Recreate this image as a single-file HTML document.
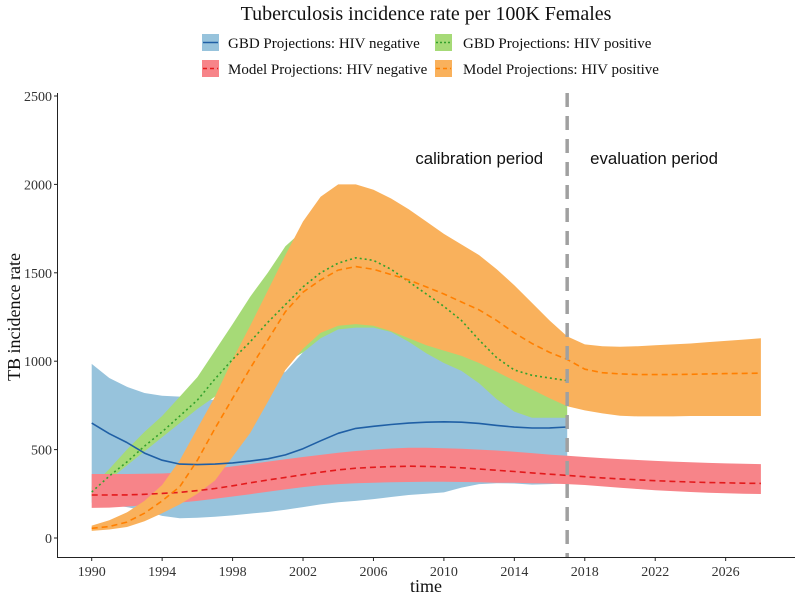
<!DOCTYPE html>
<html><head><meta charset="utf-8"><style>
html,body{margin:0;padding:0;background:#fff;}
svg{display:block;font-family:"Liberation Serif",serif;}
</style></head><body>
<svg id="chart" width="800" height="600" viewBox="0 0 800 600">
<text x="426" y="20" font-size="20" text-anchor="middle" fill="#111">Tuberculosis incidence rate per 100K Females</text>
<g>
 <g>
  <rect x="202" y="34" width="17" height="17" fill="#97c3dc"/><line x1="203" y1="42.5" x2="218" y2="42.5" stroke="#1f5fa5" stroke-width="1.5"/>
  <text x="228" y="48" font-size="15" fill="#111">GBD Projections: HIV negative</text></g>
 <g>
  <rect x="435" y="34" width="17" height="17" fill="#a6da77"/><line x1="436" y1="42.5" x2="451" y2="42.5" stroke="#33a02c" stroke-width="1.5" stroke-dasharray="2,2"/>
  <text x="463" y="48" font-size="15" fill="#111">GBD Projections: HIV positive</text></g>
 <g>
  <rect x="202" y="60" width="17" height="17" fill="#f78489"/><line x1="203" y1="68.5" x2="218" y2="68.5" stroke="#e31a1c" stroke-width="1.5" stroke-dasharray="4,3"/>
  <text x="228" y="74" font-size="15" fill="#111">Model Projections: HIV negative</text></g>
 <g>
  <rect x="435" y="60" width="17" height="17" fill="#f9b15c"/><line x1="436" y1="68.5" x2="451" y2="68.5" stroke="#ff7f00" stroke-width="1.5" stroke-dasharray="4,3"/>
  <text x="463" y="74" font-size="15" fill="#111">Model Projections: HIV positive</text></g>
</g>
<g id="plot"></g>
<text transform="translate(20,317) rotate(-90)" font-size="18" text-anchor="middle" fill="#111">TB incidence rate</text>
<text x="426" y="592" font-size="18" text-anchor="middle" fill="#111">time</text>
</svg>
<script>
const gbdYears = [];for(let y=1990;y<=2017;y++)gbdYears.push(y);
const modelYears = [];for(let y=1990;y<=2028;y++)modelYears.push(y);
const gbdNegUpper=[985,905,855,820,805,800,790,780,800,840,890,940,1050,1150,1205,1210,1210,1175,1120,1050,995,950,880,790,720,685,685,685];
const gbdNegLower=[200,190,175,155,125,112,115,120,128,138,147,160,175,190,202,210,220,232,243,250,258,285,305,310,308,302,305,310];
const gbdNegMean=[650,590,540,480,440,418,415,418,425,435,448,470,505,550,592,620,632,642,650,655,657,655,648,637,627,622,623,628];
const gbdPosUpper=[290,390,500,600,690,800,910,1060,1210,1365,1500,1650,1740,1800,1830,1820,1790,1740,1690,1630,1560,1480,1400,1310,1220,1120,1050,1000];
const gbdPosLower=[230,330,410,490,570,650,730,800,860,910,950,990,1050,1130,1180,1190,1190,1165,1110,1045,990,945,875,785,715,680,680,680];
const gbdPosMean=[260,350,430,520,600,690,780,900,1010,1110,1220,1320,1420,1500,1555,1585,1570,1520,1450,1380,1310,1230,1120,1020,950,920,905,890];
const modelNegUpper=[362,362,362,363,365,370,380,392,405,418,432,445,458,470,482,492,500,506,510,510,508,505,500,495,488,480,472,465,458,452,446,441,436,432,428,425,422,420,418];
const modelNegLower=[170,172,178,185,192,200,210,222,235,248,262,275,288,298,305,310,313,315,317,318,318,317,315,313,312,310,308,305,300,292,284,277,270,265,260,256,253,250,249];
const modelNegMean=[243,243,244,247,252,258,268,280,295,312,328,343,358,372,385,395,400,404,406,405,402,397,390,383,376,368,361,354,347,340,334,329,324,320,317,314,312,310,309];
const modelPosUpper=[70,100,145,210,300,440,620,800,1010,1200,1400,1600,1790,1930,2000,2000,1970,1920,1860,1790,1720,1660,1600,1520,1430,1330,1230,1140,1095,1085,1082,1085,1090,1095,1100,1108,1115,1122,1130];
const modelPosLower=[40,48,62,95,140,190,250,325,460,594,770,950,1070,1160,1200,1210,1200,1170,1130,1090,1060,1030,990,940,890,840,790,745,722,705,692,688,688,688,690,690,690,690,690];
const modelPosMean=[55,65,90,140,210,290,440,620,790,960,1120,1280,1390,1460,1515,1535,1520,1490,1460,1420,1380,1335,1290,1230,1160,1100,1050,1010,955,935,928,925,924,925,926,928,930,931,932];
const yTicks=[0,500,1000,1500,2000,2500];
const xTicks=[1990,1994,1998,2002,2006,2010,2014,2018,2022,2026];
const calibrationEnd=2017;

const NS="http://www.w3.org/2000/svg";
const xS=yr=>91.7+(yr-1990)*17.61;
const yS=v=>538-v*0.1768;
const plot=document.getElementById('plot');
function mk(tag,attrs){const e=document.createElementNS(NS,tag);for(const k in attrs)e.setAttribute(k,attrs[k]);plot.appendChild(e);return e;}
function band(yrs,up,lo,fill,name){
  let d='M'+yrs.map((y,i)=>xS(y).toFixed(1)+','+yS(up[i]).toFixed(1)).join('L');
  for(let i=yrs.length-1;i>=0;i--)d+='L'+xS(yrs[i]).toFixed(1)+','+yS(lo[i]).toFixed(1);
  const p=mk('path',{d:d+'Z',fill:fill});
  
  
}
function line(yrs,vals,stroke,dash,name){
  const p=mk('polyline',{points:yrs.map((y,i)=>xS(y).toFixed(1)+','+yS(vals[i]).toFixed(1)).join(' '),fill:'none',stroke:stroke,'stroke-width':1.6,'stroke-dasharray':dash,'stroke-linejoin':'round'});
  
  
}
band(gbdYears,gbdNegUpper,gbdNegLower,'#97c3dc','band-gbd-hiv-negative');
band(gbdYears,gbdPosUpper,gbdPosLower,'#a6da77','band-gbd-hiv-positive');
band(modelYears,modelNegUpper,modelNegLower,'#f78489','band-model-hiv-negative');
band(modelYears,modelPosUpper,modelPosLower,'#f9b15c','band-model-hiv-positive');
line(gbdYears,gbdNegMean,'#1f5fa5','none','line-gbd-hiv-negative');
line(gbdYears,gbdPosMean,'#33a02c','2,3','line-gbd-hiv-positive');
line(modelYears,modelNegMean,'#e31a1c','6,4','line-model-hiv-negative');
line(modelYears,modelPosMean,'#ff7f00','6,4','line-model-hiv-positive');
const vl=mk('line',{x1:xS(calibrationEnd),x2:xS(calibrationEnd),y1:93,y2:558,stroke:'#a0a0a0','stroke-width':3.5,'stroke-dasharray':'14,9'});


const t1=mk('text',{x:xS(calibrationEnd)-24,y:164,'font-size':16.8,'text-anchor':'end','font-family':'Liberation Sans, sans-serif',fill:'#111'});
t1.textContent='calibration period';


const t2=mk('text',{x:xS(calibrationEnd)+23,y:164,'font-size':16.8,'font-family':'Liberation Sans, sans-serif',fill:'#111'});
t2.textContent='evaluation period';


// axes
const ya=mk('line',{x1:57.5,x2:57.5,y1:93,y2:558,stroke:'#222','stroke-width':1});


const xa=mk('line',{x1:57,x2:795,y1:557.5,y2:557.5,stroke:'#222','stroke-width':1});


yTicks.forEach(v=>{
  mk('line',{x1:54,x2:57.5,y1:yS(v),y2:yS(v),stroke:'#222'});
  const t=mk('text',{x:52,y:yS(v)+5,'font-size':14,'text-anchor':'end',fill:'#333'});
  t.textContent=v;
  
  
});
xTicks.forEach(v=>{
  mk('line',{x1:xS(v),x2:xS(v),y1:557.5,y2:561,stroke:'#222'});
  const t=mk('text',{x:xS(v),y:576,'font-size':14,'text-anchor':'middle',fill:'#333'});
  t.textContent=v;
  
  
});
</script>
</body></html>
